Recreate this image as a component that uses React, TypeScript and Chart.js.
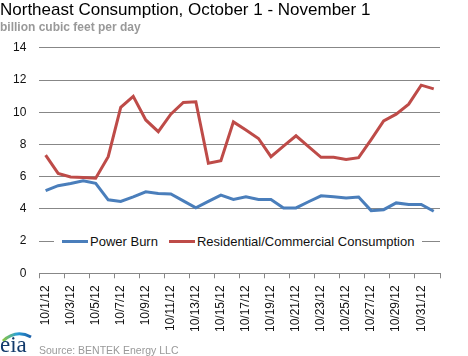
import React, { useEffect, useRef } from "react";
import { Chart, registerables } from "chart.js";

Chart.register(...registerables);

const categories = [
  "10/1/12", "10/2/12", "10/3/12", "10/4/12", "10/5/12", "10/6/12", "10/7/12", "10/8/12",
  "10/9/12", "10/10/12", "10/11/12", "10/12/12", "10/13/12", "10/14/12", "10/15/12", "10/16/12",
  "10/17/12", "10/18/12", "10/19/12", "10/20/12", "10/21/12", "10/22/12", "10/23/12", "10/24/12",
  "10/25/12", "10/26/12", "10/27/12", "10/28/12", "10/29/12", "10/30/12", "10/31/12", "11/1/12",
];

const powerBurn = [
  5.13, 5.44, 5.57, 5.75, 5.59, 4.56, 4.46, 4.75, 5.06, 4.96, 4.92, 4.5, 4.06, 4.46, 4.85, 4.58,
  4.75, 4.58, 4.58, 4.06, 4.06, 4.44, 4.81, 4.75, 4.67, 4.73, 3.89, 3.95, 4.37, 4.27, 4.27, 3.85,
];

const residentialCommercial = [
  7.34, 6.2, 5.98, 5.94, 5.9, 7.24, 10.3, 10.99, 9.52, 8.79, 9.88, 10.61, 10.65, 6.84, 6.99, 9.4,
  8.9, 8.37, 7.24, 7.89, 8.54, 7.87, 7.2, 7.2, 7.07, 7.18, 8.3, 9.46, 9.88, 10.5, 11.68, 11.45,
];

const seriesNames = ["Power Burn", "Residential/Commercial Consumption"];
const seriesColors = ["#4A7EBB", "#BE4B48"];

const FONT = "'Liberation Sans', Arial, sans-serif";
const GRID = "#878787";

export default function App() {
  const ref = useRef<HTMLCanvasElement | null>(null);

  useEffect(() => {
    if (!ref.current) return;
    const chart = new Chart(ref.current, {
      type: "line",
      data: {
        labels: categories,
        datasets: [
          {
            label: seriesNames[0],
            data: powerBurn,
            borderColor: seriesColors[0],
            backgroundColor: seriesColors[0],
            borderWidth: 3,
            pointRadius: 0,
            tension: 0,
          },
          {
            label: seriesNames[1],
            data: residentialCommercial,
            borderColor: seriesColors[1],
            backgroundColor: seriesColors[1],
            borderWidth: 3,
            pointRadius: 0,
            tension: 0,
          },
        ],
      },
      options: {
        responsive: false,
        animation: false,
        devicePixelRatio: 1,
        layout: { padding: { left: 0, right: 28, top: 0, bottom: 17 } },
        plugins: {
          legend: { display: false },
          tooltip: { enabled: false },
          title: {
            display: true,
            text: "Northeast Consumption, October 1 - November 1",
            align: "start",
            color: "#000",
            font: { family: FONT, size: 17, weight: "normal" },
            padding: { top: 0, bottom: 0 },
          },
          subtitle: {
            display: true,
            text: "billion cubic feet per day",
            align: "start",
            color: "#999",
            font: { family: FONT, size: 12, weight: "bold" },
            padding: { top: 0, bottom: 13 },
          },
        },
        scales: {
          x: {
            offset: true,
            grid: {
              offset: true,
              drawOnChartArea: false,
              drawTicks: true,
              tickLength: 5,
              tickColor: (ctx: any) =>
                ctx.index === undefined || ctx.index % 2 === 0 ? GRID : "rgba(0,0,0,0)",
            },
            border: { display: true, color: GRID },
            ticks: {
              autoSkip: false,
              maxRotation: 90,
              minRotation: 90,
              padding: 7,
              color: "#111",
              font: { family: FONT, size: 12 },
              callback: function (this: any, _v: any, i: number) {
                return i % 2 === 0 ? categories[i] : "";
              },
            },
          },
          y: {
            min: 0,
            max: 14,
            grid: { color: GRID, drawTicks: false, lineWidth: 1 },
            border: { display: false },
            ticks: {
              stepSize: 2,
              padding: 13,
              color: "#111",
              font: { family: FONT, size: 12 },
            },
          },
        },
      },
    });
    return () => chart.destroy();
  }, []);

  return (
    <div style={{ position: "fixed", left: 0, top: 0, width: 468, height: 356, background: "#fff", fontFamily: FONT }}>
      <canvas ref={ref} width={468} height={356} style={{ display: "block" }} />
      <div
        style={{
          position: "absolute",
          left: 54,
          top: 232,
          width: 368,
          height: 18,
          background: "#fff",
          display: "flex",
          alignItems: "center",
          fontSize: 13,
          color: "#111",
          whiteSpace: "nowrap",
        }}
      >
        <span style={{ display: "inline-block", width: 26, height: 3, background: seriesColors[0], marginLeft: 8, marginRight: 2 }} />
        <span>{seriesNames[0]}</span>
        <span style={{ display: "inline-block", width: 26, height: 3, background: seriesColors[1], marginLeft: 11, marginRight: 2 }} />
        <span>{seriesNames[1]}</span>
      </div>
      <div style={{ position: "absolute", left: 0, top: 329, width: 34, height: 27 }}>
        <svg width="34" height="14" style={{ position: "absolute", left: 0, top: 0 }}>
          <defs>
            <linearGradient id="eiaArc" x1="0" x2="1" y1="0" y2="0">
              <stop offset="0" stopColor="#8cc63f" />
              <stop offset="0.5" stopColor="#2aa0d8" />
              <stop offset="1" stopColor="#1b5fa8" />
            </linearGradient>
          </defs>
          <path d="M3 12 Q 16 0 31 8" stroke="url(#eiaArc)" strokeWidth="3" fill="none" />
        </svg>
        <div
          style={{
            position: "absolute",
            left: 0,
            top: 4,
            fontFamily: "'Liberation Serif', 'DejaVu Serif', serif",
            fontSize: 23,
            lineHeight: "23px",
            color: "#123a6b",
          }}
        >
          eia
        </div>
      </div>
      <div style={{ position: "absolute", left: 39, top: 344, fontSize: 10.5, lineHeight: "12px", color: "#999" }}>
        Source: BENTEK Energy LLC
      </div>
    </div>
  );
}
